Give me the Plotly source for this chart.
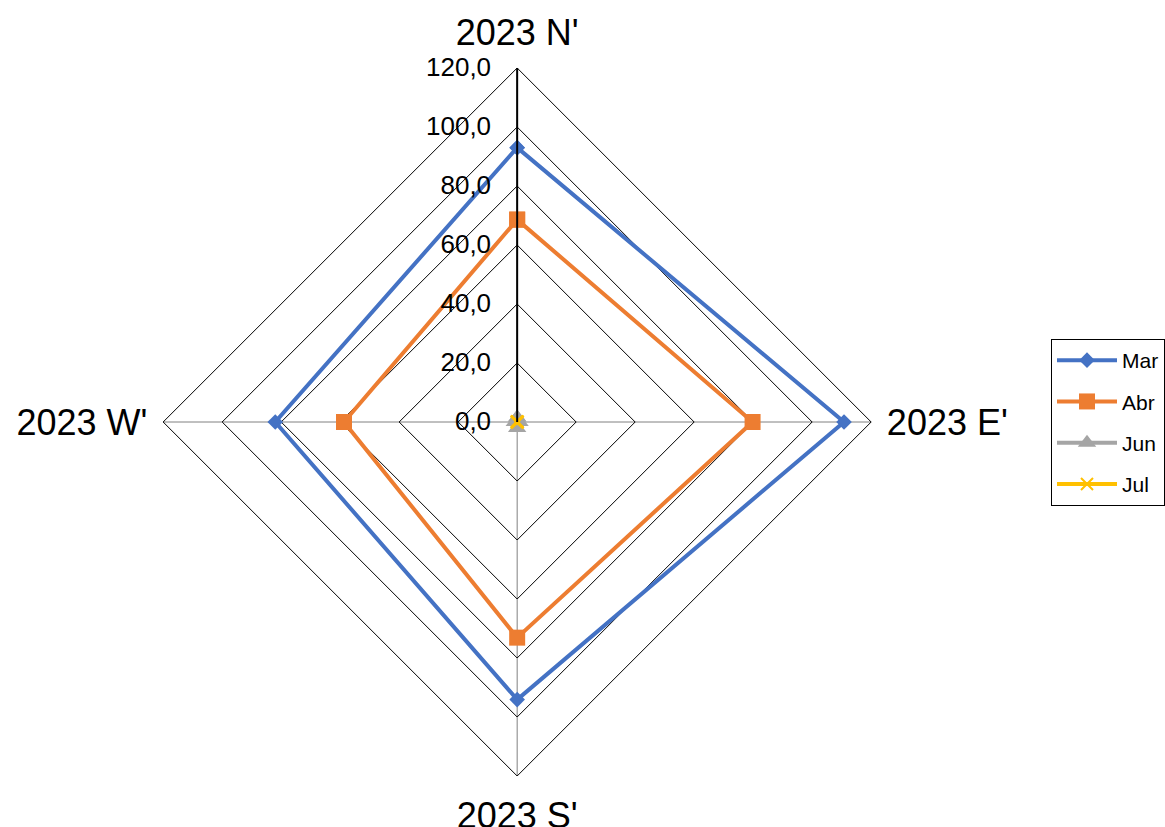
import plotly.graph_objects as go

categories = ["2023 N'", "2023 E'", "2023 S'", "2023 W'"]
series_names = ["Mar", "Abr", "Jun", "Jul"]
mar_values = [93.0, 110.8, 94.1, 82.0]
abr_values = [68.6, 79.8, 73.1, 58.7]
jun_values = [1.5, 0.8, 2.0, 0.8]
jul_values = [0.2, 0.2, 0.2, 0.2]
radial_ticks = [0, 20, 40, 60, 80, 100, 120]

series_values = [mar_values, abr_values, jun_values, jul_values]
colors = ["#4472C4", "#ED7D31", "#A5A5A5", "#FFC000"]
symbols = ["diamond", "square", "triangle-up", "x-thin"]
msizes = [12, 16, 16, 12]

FONT = "Liberation Sans, Arial, sans-serif"

fig = go.Figure()
for name, vals, c, s, ms in zip(series_names, series_values, colors, symbols, msizes):
    mk = dict(color=c, size=ms, symbol=s)
    if s == "x-thin":
        mk["line"] = dict(color=c, width=2)
    fig.add_trace(go.Scatterpolar(
        r=vals + vals[:1],
        theta=categories + categories[:1],
        mode="lines+markers",
        name=name,
        legendgroup=name,
        line=dict(color=c, width=4),
        marker=mk,
    ))

W, H = 1165, 827
# domain box (pixels) chosen so the drawn diamond spans x 163..869, y 69..775
dx0, dx1, dy0, dy1 = 165, 881, 65, 779
fig.update_layout(
    width=W, height=H,
    margin=dict(l=0, r=0, t=0, b=0),
    paper_bgcolor="white",
    plot_bgcolor="white",
    separators=", ",
    font=dict(family=FONT, color="black"),
    polar=dict(
        domain=dict(x=[dx0 / W, dx1 / W], y=[1 - dy1 / H, 1 - dy0 / H]),
        gridshape="linear",
        bgcolor="white",
        angularaxis=dict(
            categoryorder="array", categoryarray=categories,
            rotation=90, direction="clockwise",
            showline=True, linecolor="black", linewidth=1,
            showgrid=True, gridcolor="#808080", gridwidth=1,
            ticks="outside", ticklen=8, tickcolor="rgba(0,0,0,0)",
            tickfont=dict(size=36, family=FONT, color="black"),
        ),
        radialaxis=dict(
            range=[0, 120], tickvals=radial_ticks, tickformat=".1f",
            angle=90, side="counterclockwise", tickangle=90,
            showline=True, linecolor="black", linewidth=2,
            showgrid=True, gridcolor="black", gridwidth=1,
            ticks="outside", ticklen=16, tickcolor="rgba(0,0,0,0)",
            tickfont=dict(size=26, family=FONT, color="black"),
        ),
    ),
    legend=dict(
        x=1063 / W, y=1 - 339 / H, xanchor="left", yanchor="top",
        bordercolor="black", borderwidth=1, bgcolor="white",
        font=dict(size=21, family=FONT, color="black"),
        tracegroupgap=11, itemwidth=60,
    ),
)

fig.write_html("out.html")
